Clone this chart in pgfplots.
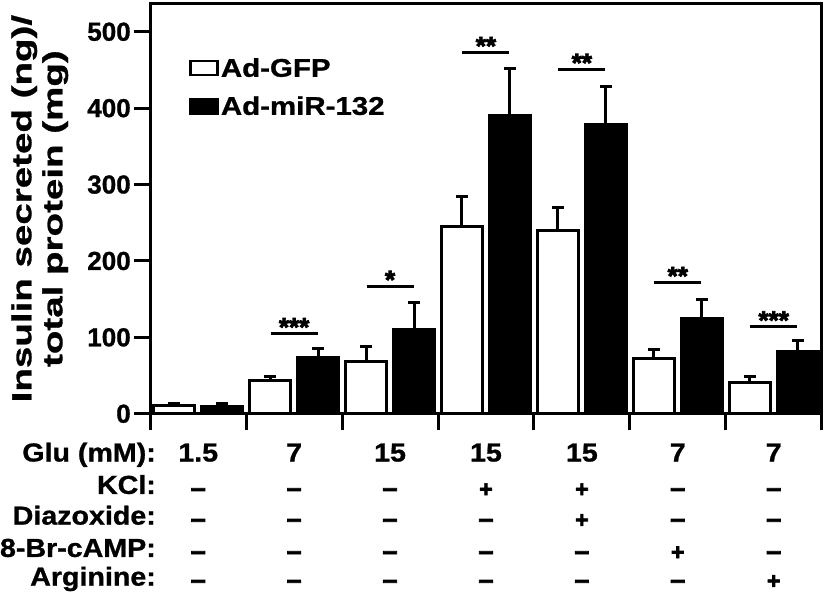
\documentclass[border=0pt]{standalone}
\usepackage{pgfplots}
\pgfplotsset{compat=1.18}
\usepackage{fontspec}
\setmainfont{Liberation Sans}[BoldFeatures={FakeBold=1}]
\newfontfamily\ylfont{Liberation Sans}[FakeStretch=1.4, BoldFeatures={FakeBold=1}]
\newfontfamily\lgfont{Liberation Sans}[FakeStretch=1.15, BoldFeatures={FakeBold=1}]
\newfontfamily\tbfont{Liberation Sans}[FakeStretch=1.1, BoldFeatures={FakeBold=1}]
\newfontfamily\pmfont{Liberation Sans}[BoldFeatures={FakeBold=3}]
\newcommand\tbf{\tbfont\bfseries\fontsize{26}{28}\selectfont}
\newcommand\cell[3]{\node[font=\tbf, anchor=base, inner sep=0pt] at (axis cs:#1,#2) {#3};}
\newcommand\mn{\raisebox{-3pt}{\pmfont\bfseries\fontsize{27}{28}\selectfont\textendash}}
\newcommand\pl{\raisebox{-3pt}{\pmfont\bfseries\fontsize{23}{26}\selectfont +}}
\newcommand\lab[2]{\node[font=\tbf, anchor=base east, inner sep=0pt] at (axis cs:0.56,#1) {#2};}
\newcommand\sig[3]{\draw[line width=3pt] (axis cs:#1-0.245,#2) -- (axis cs:#1+0.245,#2);
  \node[font=\pmfont\bfseries\fontsize{26}{28}\selectfont, anchor=base, inner sep=0pt, yshift=-2.5pt] at (axis cs:#1,#2) {#3};}
\begin{document}
\begin{tikzpicture}
\begin{axis}[
  scale only axis, width=671pt, height=410pt,
  xmin=0.5, xmax=7.5, ymin=0, ymax=537,
  xtick={0.5,1.5,2.5,3.5,4.5,5.5,6.5,7.5}, xticklabels={},
  ytick={0,100,200,300,400,500},
  tick pos=left, tick align=outside, major tick length=16pt,
  tick style={line width=3pt, black},
  axis line style={line width=3pt},
  /pgf/number format/assume math mode=true,
  yticklabel style={font=\bfseries\fontsize{26}{28}\selectfont},
  ylabel={Insulin secreted (ng)/\\total protein (mg)},
  ylabel style={font=\ylfont\bfseries\fontsize{27.5}{31}\selectfont, align=center, at={(axis description cs:-0.122,0.5)}, anchor=south, inner sep=0pt},
  clip=false,
  ybar,
  bar width=0.43,
  legend style={at={(axis description cs:0.058,0.872)}, anchor=north west, draw=none, fill=none, inner sep=0pt, row sep=14pt, column sep=0pt,
    font=\lgfont\bfseries\fontsize{25.6}{28}\selectfont, nodes={inner sep=2pt}},
  legend cell align=left,
]
\addplot[fill=white, draw=black, line width=3pt, bar shift=-0.25,
  legend image code/.code={\draw[fill=white, draw=black, line width=2.5pt] (1pt,-7pt) rectangle (28pt,7pt);},
  error bars/.cd, y dir=plus, y explicit, error bar style={line width=3pt, black}, error mark options={rotate=90, line width=3pt, mark size=6pt, black}]
  coordinates {(1,11) +- (0,2) (2,43) +- (0,6) (3,68) +- (0,20) (4,245) +- (0,40) (5,240) +- (0,30) (6,72) +- (0,12) (7,41) +- (0,8)};
\addlegendentry{Ad-GFP}
\addplot[fill=black, draw=black, line width=3pt, bar shift=0.25,
  legend image code/.code={\draw[fill=black, draw=black, line width=2.5pt] (1pt,-7pt) rectangle (28pt,7pt);},
  error bars/.cd, y dir=plus, y explicit, error bar style={line width=3pt, black}, error mark options={rotate=90, line width=3pt, mark size=6pt, black}]
  coordinates {(1,9) +- (0,5) (2,73) +- (0,12) (3,110) +- (0,36) (4,391) +- (0,61) (5,379) +- (0,49) (6,125) +- (0,25) (7,81) +- (0,15)};
\addlegendentry{Ad-miR-132}
\sig{2}{105}{***}
\sig{3}{167}{*}
\sig{4}{473}{**}
\sig{5}{451}{**}
\sig{6}{172}{**}
\sig{7}{114}{***}
\lab{-62.5}{Glu (mM):}
\lab{-104.9}{KCl:}
\lab{-145.1}{Diazoxide:}
\lab{-187.4}{8-Br-cAMP:}
\lab{-225}{Arginine:}
\cell{1}{-62.5}{1.5}\cell{2}{-62.5}{7}\cell{3}{-62.5}{15}\cell{4}{-62.5}{15}\cell{5}{-62.5}{15}\cell{6}{-62.5}{7}\cell{7}{-62.5}{7}
\cell{1}{-104.9}{\mn}\cell{2}{-104.9}{\mn}\cell{3}{-104.9}{\mn}\cell{4}{-104.9}{\pl}\cell{5}{-104.9}{\pl}\cell{6}{-104.9}{\mn}\cell{7}{-104.9}{\mn}
\cell{1}{-145.1}{\mn}\cell{2}{-145.1}{\mn}\cell{3}{-145.1}{\mn}\cell{4}{-145.1}{\mn}\cell{5}{-145.1}{\pl}\cell{6}{-145.1}{\mn}\cell{7}{-145.1}{\mn}
\cell{1}{-187.4}{\mn}\cell{2}{-187.4}{\mn}\cell{3}{-187.4}{\mn}\cell{4}{-187.4}{\mn}\cell{5}{-187.4}{\mn}\cell{6}{-187.4}{\pl}\cell{7}{-187.4}{\mn}
\cell{1}{-225}{\mn}\cell{2}{-225}{\mn}\cell{3}{-225}{\mn}\cell{4}{-225}{\mn}\cell{5}{-225}{\mn}\cell{6}{-225}{\mn}\cell{7}{-225}{\pl}
\end{axis}
\path ([xshift=4pt,yshift=2pt]current bounding box.north east) ([yshift=-5pt]current bounding box.south west);
\end{tikzpicture}
\end{document}
